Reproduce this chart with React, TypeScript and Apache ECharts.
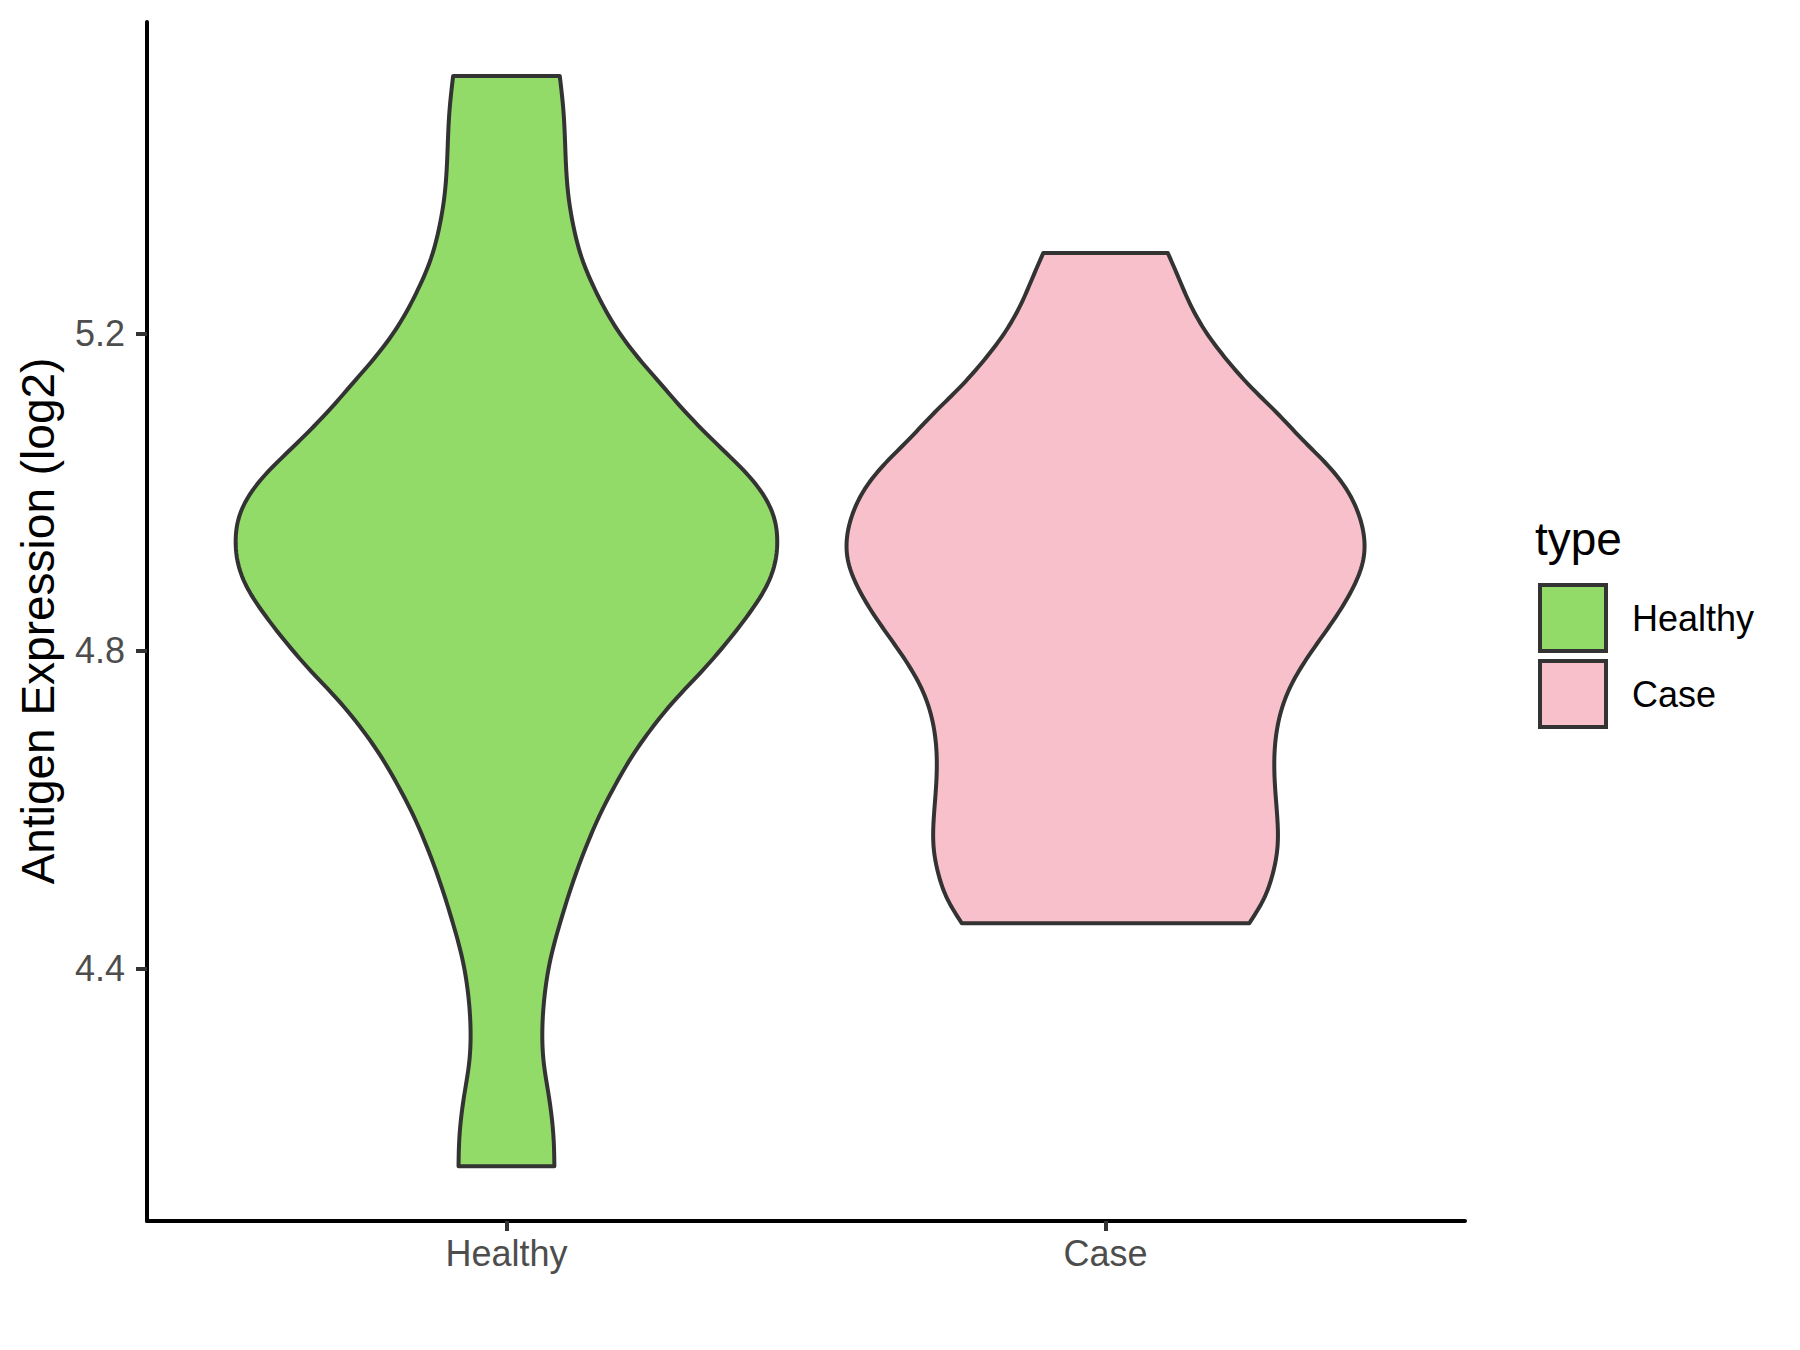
import React, { useEffect, useRef } from "react";
import * as echarts from "echarts";

const categories = ["Healthy", "Case"];
const yTicks = [4.4, 4.8, 5.2];
const yMin = 4.082;
const yMax = 5.592;

// Healthy violin outline: values (top to bottom) and half-widths (x units)
const healthyValues = [5.524, 5.481, 5.418, 5.376, 5.334, 5.292, 5.25, 5.208, 5.17, 5.141, 5.099, 5.057, 5.019, 4.99, 4.964, 4.939, 4.91, 4.88, 4.847, 4.809, 4.771, 4.738, 4.7, 4.67, 4.637, 4.603, 4.561, 4.511, 4.456, 4.41, 4.368, 4.326, 4.283, 4.238, 4.181, 4.151];
const healthyHalf = [0.089, 0.095, 0.099, 0.103, 0.112, 0.127, 0.151, 0.182, 0.219, 0.252, 0.301, 0.356, 0.406, 0.434, 0.448, 0.452, 0.448, 0.433, 0.405, 0.366, 0.322, 0.281, 0.24, 0.212, 0.186, 0.162, 0.137, 0.112, 0.089, 0.073, 0.064, 0.06, 0.062, 0.071, 0.079, 0.08];

// Case violin outline
const caseValues = [5.301, 5.275, 5.237, 5.2, 5.166, 5.132, 5.099, 5.065, 5.036, 5.006, 4.973, 4.939, 4.914, 4.889, 4.838, 4.796, 4.754, 4.712, 4.67, 4.628, 4.586, 4.553, 4.519, 4.486, 4.457];
const caseHalf = [0.104, 0.119, 0.141, 0.169, 0.203, 0.243, 0.287, 0.33, 0.368, 0.4, 0.422, 0.432, 0.43, 0.419, 0.38, 0.341, 0.308, 0.289, 0.282, 0.283, 0.287, 0.287, 0.279, 0.263, 0.24];

const colors = ["#93DB69", "#F8C0CB"];
const outline = "#333333";
const FONT = "'Liberation Sans', Arial, Helvetica, sans-serif";

// Natural cubic spline of half-width as a function of value, used only to draw a smooth outline
function spline(valuesDesc: number[], halfDesc: number[]) {
  const t = valuesDesc.slice().reverse();
  const h = halfDesc.slice().reverse();
  const n = t.length;
  const m = new Array(n).fill(0);
  const a: number[] = new Array(n).fill(0);
  const b: number[] = new Array(n).fill(0);
  const c: number[] = new Array(n).fill(0);
  const r: number[] = new Array(n).fill(0);
  b[0] = 1;
  b[n - 1] = 1;
  for (let i = 1; i < n - 1; i++) {
    const d0 = t[i] - t[i - 1];
    const d1 = t[i + 1] - t[i];
    a[i] = d0;
    b[i] = 2 * (d0 + d1);
    c[i] = d1;
    r[i] = 6 * ((h[i + 1] - h[i]) / d1 - (h[i] - h[i - 1]) / d0);
  }
  for (let i = 1; i < n; i++) {
    const w = a[i] / b[i - 1];
    b[i] -= w * c[i - 1];
    r[i] -= w * r[i - 1];
  }
  m[n - 1] = r[n - 1] / b[n - 1];
  for (let i = n - 2; i >= 0; i--) m[i] = (r[i] - c[i] * m[i + 1]) / b[i];
  return (v: number) => {
    let i = 0;
    while (i < n - 2 && v > t[i + 1]) i++;
    const d = t[i + 1] - t[i];
    const A = (t[i + 1] - v) / d;
    const B = (v - t[i]) / d;
    return A * h[i] + B * h[i + 1] + ((A * A * A - A) * m[i] + (B * B * B - B) * m[i + 1]) * d * d / 6;
  };
}

function makeRender(center: number, values: number[], half: number[], color: string) {
  const f = spline(values, half);
  const top = values[0];
  const bottom = values[values.length - 1];
  const steps = 240;
  return (params: any, api: any) => {
    if (params.dataIndex !== 0) return null;
    const right: number[][] = [];
    const left: number[][] = [];
    for (let k = 0; k <= steps; k++) {
      const v = top - ((top - bottom) * k) / steps;
      const w = f(v);
      right.push(api.coord([center + w, v]));
      left.push(api.coord([center - w, v]));
    }
    let d = `M ${left[0][0]} ${left[0][1]}`;
    for (const p of right) d += ` L ${p[0]} ${p[1]}`;
    for (let k = left.length - 1; k >= 0; k--) d += ` L ${left[k][0]} ${left[k][1]}`;
    d += " Z";
    return {
      type: "path",
      shape: { pathData: d },
      style: { fill: color, stroke: outline, lineWidth: 4, lineJoin: "round" },
    };
  };
}

export default function App() {
  const ref = useRef<HTMLDivElement>(null);
  useEffect(() => {
    if (!ref.current) return;
    const chart = echarts.init(ref.current, undefined, { renderer: "svg" });
    const groups = [
      { values: healthyValues, half: healthyHalf },
      { values: caseValues, half: caseHalf },
    ];
    chart.setOption({
      animation: false,
      backgroundColor: "#ffffff",
      grid: { left: 147, top: 22, width: 1318, height: 1199, containLabel: false },
      xAxis: {
        type: "value",
        min: 0.4,
        max: 2.6,
        splitLine: { show: false },
        axisLine: { show: true, lineStyle: { color: "#000000", width: 4 } },
        axisTick: { show: true, customValues: [1, 2], length: 10, lineStyle: { color: outline, width: 4 } },
        axisLabel: {
          customValues: [1, 2],
          formatter: (v: number) => categories[Math.round(v) - 1],
          fontSize: 36,
          fontFamily: FONT,
          color: "#4D4D4D",
          margin: 14,
        },
      },
      yAxis: {
        type: "value",
        min: yMin,
        max: yMax,
        splitLine: { show: false },
        axisLine: { show: true, lineStyle: { color: "#000000", width: 4 } },
        axisTick: { show: true, customValues: yTicks, length: 11, lineStyle: { color: outline, width: 4 } },
        axisLabel: {
          customValues: yTicks,
          formatter: (v: number) => v.toFixed(1),
          fontSize: 36,
          fontFamily: FONT,
          color: "#4D4D4D",
          margin: 22,
        },
      },
      legend: {
        data: categories,
        orient: "vertical",
        left: 1538,
        top: 583,
        padding: 0,
        icon: "rect",
        itemWidth: 66,
        itemHeight: 66,
        itemGap: 6,
        itemStyle: { borderColor: outline, borderWidth: 4 },
        textStyle: { fontSize: 36, fontFamily: FONT, color: "#000000", padding: [0, 0, 0, 21] },
        selectedMode: false,
      },
      graphic: [
        {
          type: "text",
          x: 38,
          y: 621,
          rotation: Math.PI / 2,
          style: {
            text: "Antigen Expression (log2)",
            font: `46px ${FONT}`,
            fill: "#000000",
            textAlign: "center",
            textVerticalAlign: "middle",
          },
        },
        {
          type: "text",
          x: 1535,
          y: 539,
          style: {
            text: "type",
            font: `46px ${FONT}`,
            fill: "#000000",
            textAlign: "left",
            textVerticalAlign: "middle",
          },
        },
      ],
      series: groups.map((g, gi) => ({
        type: "custom",
        name: categories[gi],
        itemStyle: { color: colors[gi] },
        renderItem: makeRender(gi + 1, g.values, g.half, colors[gi]),
        data: g.values.map((v, i) => [gi + 1, v, g.half[i]]),
        encode: { x: 0, y: 1 },
        silent: true,
      })),
    });
    return () => chart.dispose();
  }, []);
  return <div ref={ref} style={{ position: "absolute", left: 0, top: 0, width: 1800, height: 1350 }} />;
}
